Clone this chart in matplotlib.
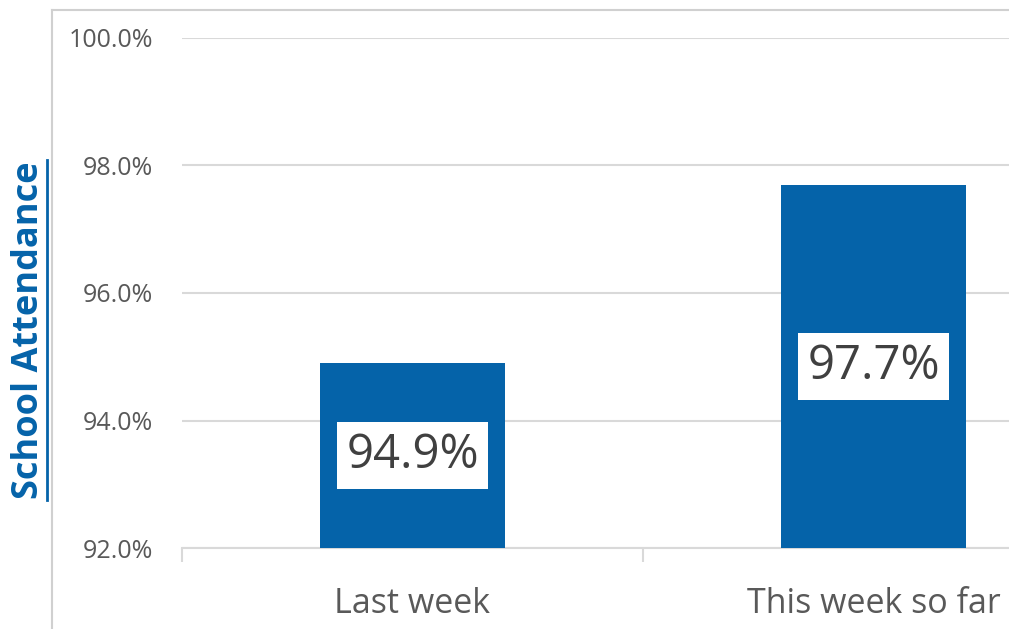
import matplotlib.pyplot as plt
from matplotlib.lines import Line2D
import numpy as np

categories = ["Last week", "This week so far"]
attendance = [94.9, 97.7]
value_labels = ["94.9%", "97.7%"]
y_ticks = [92, 94, 96, 98, 100]

blue = "#0563A9"
grey_text = "#595959"
grid_grey = "#D9D9D9"
font = "Open Sans"

fig = plt.figure(figsize=(10.09, 6.29), dpi=100)
# the plot area runs off the right edge of the picture, like the source crop
ax = fig.add_axes([182 / 1009, 1 - 548 / 629, 922 / 1009, 510 / 629])

x = np.arange(len(categories))
ax.bar(x, [v - 92 for v in attendance], bottom=92, width=0.4, color=blue, zorder=3)

for xi, v, lab in zip(x, attendance, value_labels):
    ax.text(xi, (92 + v) / 2, lab, ha="center", va="center", fontsize=34,
            family=font, color="#404040", zorder=4,
            bbox=dict(boxstyle="square,pad=0.2", fc="white", ec="none"))

ax.set_xlim(-0.5, 1.5)
ax.set_ylim(92, 100)
ax.set_yticks(y_ticks)
ax.set_yticklabels([f"{t:.1f}%" for t in y_ticks], family=font, fontsize=18, color=grey_text)
ax.yaxis.grid(True, color=grid_grey, linewidth=1.5, zorder=0)
ax.tick_params(axis="y", length=0, pad=21)

ax.set_xticks(x)
ax.set_xticklabels(categories, family=font, fontsize=24.5, color=grey_text)
ax.set_xticks([-0.5, 0.5, 1.5], minor=True)
ax.tick_params(axis="x", which="major", length=0, pad=28)
ax.tick_params(axis="x", which="minor", length=10, width=1.5, color=grid_grey)

for side in ["top", "right", "left"]:
    ax.spines[side].set_visible(False)
ax.spines["bottom"].set_color(grid_grey)
ax.spines["bottom"].set_linewidth(1.5)

# outer chart frame (top and left edges visible)
fig.add_artist(Line2D([52 / 1009, 1], [1 - 10 / 629, 1 - 10 / 629], color="#D0D0D0", lw=1.5))
fig.add_artist(Line2D([52 / 1009, 52 / 1009], [0, 1 - 10 / 629], color="#D0D0D0", lw=1.5))

# underlined axis title
fig.text(29 / 1009, 1 - 330 / 629, "School Attendance", rotation=90, ha="center", va="center",
         fontsize=26, fontweight="bold", family=font, color=blue)
fig.add_artist(Line2D([47 / 1009, 47 / 1009], [1 - 500 / 629, 1 - 160 / 629], color=blue, lw=2))

fig.savefig("out.png", dpi=100)
